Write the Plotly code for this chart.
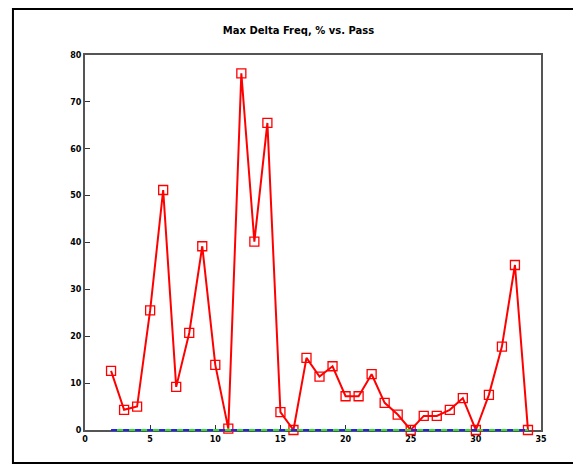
import plotly.graph_objects as go

passes = list(range(2, 35))
max_delta_freq = [12.6, 4.3, 5.0, 25.5, 51.2, 9.2, 20.7, 39.2, 13.9, 0.3, 76.1, 40.2, 65.5, 3.8,
                  0.0, 15.4, 11.4, 13.6, 7.2, 7.2, 11.9, 5.8, 3.3, 0.0, 3.0, 3.0, 4.3, 6.8,
                  0.0, 7.5, 17.8, 35.2, 0.0]
zero_line = [0.0] * len(passes)
x_ticks = [0, 5, 10, 15, 20, 25, 30, 35]
y_ticks = [0, 10, 20, 30, 40, 50, 60, 70, 80]
y_range = [0, 80]

fig = go.Figure()
fig.add_trace(go.Scatter(x=passes, y=max_delta_freq, mode="lines+markers", cliponaxis=False,
                         line=dict(color="#ff0000", width=2),
                         marker=dict(symbol="square-open", size=9, color="#ff0000",
                                     line=dict(width=1.3, color="#ff0000")),
                         showlegend=False))

# zero reference lines (blue / green dashed), drawn over the x axis line
for color, dash in [("#2020ff", "6px,6px"), ("#30e030", "0px,6px,6px,0px")]:
    yp = (zero_line[0] - y_range[0]) / (y_range[1] - y_range[0])
    fig.add_shape(type="line", xref="x", yref="paper",
                  x0=passes[0], x1=passes[-1], y0=yp, y1=yp,
                  line=dict(color=color, width=2, dash=dash), layer="above")

axis_common = dict(showgrid=False, zeroline=False, showline=True, mirror=True,
                   linecolor="#555555", linewidth=2, ticks="inside", ticklen=5,
                   layer="below traces",
                   tickcolor="#333333",
                   tickfont=dict(family="DejaVu Sans", size=8, color="#000000", weight="bold"))
fig.update_xaxes(range=[0, 35], tickvals=x_ticks, **axis_common)
fig.update_yaxes(range=y_range, tickvals=y_ticks, **axis_common)

fig.update_layout(
    width=581, height=471,
    margin=dict(l=77, r=48, t=47, b=49),
    paper_bgcolor="white", plot_bgcolor="white",
    title=dict(text="Max Delta Freq, % vs. Pass", x=0.5, xanchor="center",
               y=1 - 22 / 471, yanchor="middle",
               font=dict(family="DejaVu Sans", size=10, color="#000000", weight="bold")),
)
fig.add_shape(type="rect", xref="paper", yref="paper",
              x0=-0.158, x1=1.094, y0=-0.088, y1=1.123,
              line=dict(color="#000000", width=2), layer="below")

fig.write_html("out.html")
